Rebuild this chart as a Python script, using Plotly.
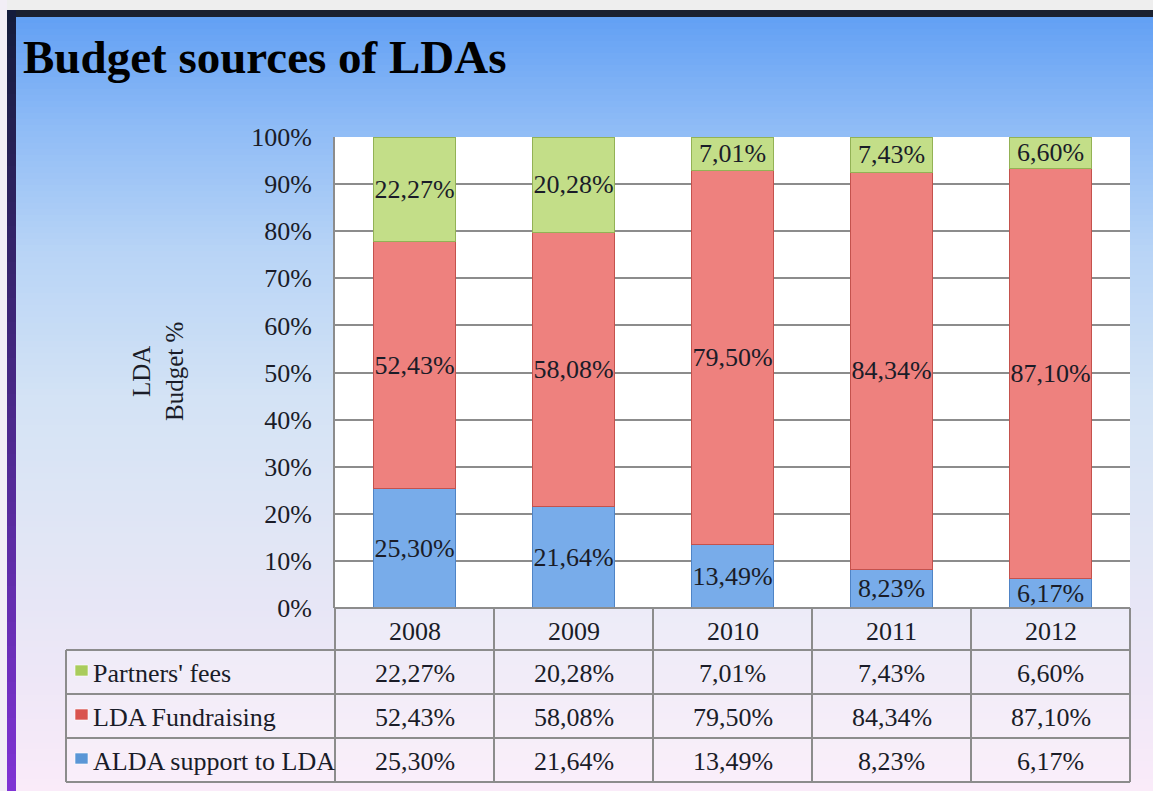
import plotly.graph_objects as go

# ---------------- data ----------------
years = ["2008", "2009", "2010", "2011", "2012"]
alda_support = [25.30, 21.64, 13.49, 8.23, 6.17]
lda_fundraising = [52.43, 58.08, 79.50, 84.34, 87.10]
partners_fees = [22.27, 20.28, 7.01, 7.43, 6.60]
series_names = ["ALDA support to LDA", "LDA Fundraising", "Partners' fees"]
y_tick_values = [0, 10, 20, 30, 40, 50, 60, 70, 80, 90, 100]
y_tick_labels = [f"{v}%" for v in y_tick_values]
title_text = "Budget sources of LDAs"
y_title_text = "LDA<br>Budget %"


def fmt(v):
    return f"{v:.2f}".replace(".", ",") + "%"


# ---------------- geometry / style ----------------
W, H = 1153, 791
FONT = "Liberation Serif"
TXT = "#1a1c28"


def px(x):
    return x / W


def py(y):
    return 1 - y / H


PLOT_L, PLOT_R, PLOT_T, PLOT_B = 335, 1130, 137, 608
TABLE_L = 66
ROW_LINES = [608, 650, 694, 738, 782]
COL_W = (PLOT_R - PLOT_L) / len(years)

colors = {
    "ALDA support to LDA": ("#78acea", "#4f84c6", "#5a96d6"),
    "LDA Fundraising": ("#ee817e", "#c4524d", "#d9534f"),
    "Partners' fees": ("#c3de88", "#93b255", "#a9cc5c"),
}
values = {
    "ALDA support to LDA": alda_support,
    "LDA Fundraising": lda_fundraising,
    "Partners' fees": partners_fees,
}

fig = go.Figure()
for name in series_names:
    fill, line, _ = colors[name]
    fig.add_trace(go.Bar(
        x=years,
        y=values[name],
        name=name,
        text=[fmt(v) for v in values[name]],
        texttemplate="%{text}",
        textposition="inside",
        insidetextanchor="middle",
        constraintext="none",
        textangle=0,
        textfont=dict(family=FONT, size=26, color=TXT),
        marker=dict(color=fill, line=dict(color=line, width=1)),
        hoverinfo="skip",
    ))

shapes = []

# background gradient bands
stops = [
    (17, (98, 160, 244)),
    (120, (140, 186, 246)),
    (250, (184, 212, 246)),
    (400, (212, 227, 245)),
    (550, (226, 230, 245)),
    (680, (238, 231, 247)),
    (791, (250, 235, 249)),
]


def color_at(y):
    for (y0, c0), (y1, c1) in zip(stops[:-1], stops[1:]):
        if y0 <= y <= y1:
            t = (y - y0) / (y1 - y0)
            return "rgb(%d,%d,%d)" % tuple(round(a + (b - a) * t) for a, b in zip(c0, c1))
    return "rgb(%d,%d,%d)" % stops[-1][1]


band = 6
y = 17
while y < H:
    shapes.append(dict(type="rect", xref="paper", yref="paper", layer="below",
                       x0=px(16), x1=1, y0=py(min(y + band + 1, H)), y1=py(y),
                       fillcolor=color_at(y + band / 2), line=dict(width=0)))
    y += band

# frame: top light strip, dark top line, left strip navy->purple
shapes.append(dict(type="rect", xref="paper", yref="paper", layer="below",
                   x0=0, x1=1, y0=py(10), y1=1, fillcolor="#eeeeee", line=dict(width=0)))
shapes.append(dict(type="rect", xref="paper", yref="paper", layer="below",
                   x0=0, x1=px(7), y0=0, y1=1, fillcolor="#f2eef6", line=dict(width=0)))
shapes.append(dict(type="rect", xref="paper", yref="paper", layer="below",
                   x0=px(8), x1=1, y0=py(17), y1=py(10), fillcolor="#1b2130", line=dict(width=0)))
y = 10
while y < H:
    t = (y - 10) / (H - 10)
    c0, c1 = (20, 28, 60), (128, 52, 214)
    col = "rgb(%d,%d,%d)" % tuple(round(a + (b - a) * t) for a, b in zip(c0, c1))
    shapes.append(dict(type="rect", xref="paper", yref="paper", layer="below",
                       x0=px(7), x1=px(16), y0=py(min(y + 13, H)), y1=py(y),
                       fillcolor=col, line=dict(width=0)))
    y += 12

# white plot area
shapes.append(dict(type="rect", xref="paper", yref="paper", layer="below",
                   x0=px(PLOT_L), x1=px(PLOT_R), y0=py(PLOT_B), y1=py(PLOT_T),
                   fillcolor="white", line=dict(width=0)))

# table cell fills
shapes.append(dict(type="rect", xref="paper", yref="paper", layer="below",
                   x0=px(PLOT_L), x1=px(PLOT_R), y0=py(ROW_LINES[1]), y1=py(ROW_LINES[0]),
                   fillcolor="rgba(255,255,255,0.22)", line=dict(width=0)))
shapes.append(dict(type="rect", xref="paper", yref="paper", layer="below",
                   x0=px(TABLE_L), x1=px(PLOT_R), y0=py(ROW_LINES[-1]), y1=py(ROW_LINES[1]),
                   fillcolor="rgba(255,255,255,0.22)", line=dict(width=0)))

GRID = "#8c8c8c"
# table horizontal lines
for i, yl in enumerate(ROW_LINES):
    x0 = PLOT_L if i == 0 else TABLE_L
    shapes.append(dict(type="line", xref="paper", yref="paper", layer="above",
                       x0=px(x0), x1=px(PLOT_R), y0=py(yl), y1=py(yl),
                       line=dict(color=GRID, width=2)))
# table vertical lines
for j in range(len(years) + 1):
    xl = PLOT_L + j * COL_W
    shapes.append(dict(type="line", xref="paper", yref="paper", layer="above",
                       x0=px(xl), x1=px(xl), y0=py(ROW_LINES[-1]), y1=py(ROW_LINES[0]),
                       line=dict(color=GRID, width=2)))
shapes.append(dict(type="line", xref="paper", yref="paper", layer="above",
                   x0=px(TABLE_L), x1=px(TABLE_L), y0=py(ROW_LINES[-1]), y1=py(ROW_LINES[1]),
                   line=dict(color=GRID, width=2)))

annotations = []
# title
annotations.append(dict(text="<b>" + title_text + "</b>", xref="paper", yref="paper",
                        x=px(21), y=py(57), xanchor="left", yanchor="middle",
                        showarrow=False, font=dict(family=FONT, size=47, color="#000000")))
# y title
annotations.append(dict(text=y_title_text, xref="paper", yref="paper",
                        x=px(158), y=py(372), xanchor="center", yanchor="middle",
                        textangle=-90, showarrow=False, align="center",
                        font=dict(family=FONT, size=25, color=TXT)))
# year header
for j, yr in enumerate(years):
    annotations.append(dict(text=yr, xref="paper", yref="paper",
                            x=px(PLOT_L + (j + 0.5) * COL_W),
                            y=py((ROW_LINES[0] + ROW_LINES[1]) / 2 + 2),
                            xanchor="center", yanchor="middle", showarrow=False,
                            font=dict(family=FONT, size=26, color=TXT)))
# table rows (top to bottom: partners, fundraising, alda)
row_order = ["Partners' fees", "LDA Fundraising", "ALDA support to LDA"]
for r, name in enumerate(row_order):
    yc = (ROW_LINES[r + 1] + ROW_LINES[r + 2]) / 2
    _, _, key = colors[name]
    shapes.append(dict(type="rect", xref="paper", yref="paper", layer="above",
                       x0=px(75), x1=px(88), y0=py(yc + 4), y1=py(yc - 7),
                       fillcolor=key, line=dict(color="rgba(255,255,255,0.6)", width=1)))
    annotations.append(dict(text=name, xref="paper", yref="paper",
                            x=px(91), y=py(yc + 1), xanchor="left", yanchor="middle",
                            showarrow=False, font=dict(family=FONT, size=26, color=TXT)))
    for j, v in enumerate(values[name]):
        annotations.append(dict(text=fmt(v), xref="paper", yref="paper",
                                x=px(PLOT_L + (j + 0.5) * COL_W), y=py(yc + 1),
                                xanchor="center", yanchor="middle", showarrow=False,
                                font=dict(family=FONT, size=26, color=TXT)))

fig.update_layout(
    width=W, height=H, autosize=False,
    margin=dict(l=0, r=0, t=0, b=0, pad=0, autoexpand=False),
    paper_bgcolor="#dfe8f5",
    plot_bgcolor="white",
    barmode="stack",
    barnorm="percent",
    bargap=0.484,
    showlegend=False,
    shapes=shapes,
    annotations=annotations,
    xaxis=dict(domain=[px(PLOT_L), px(PLOT_R)], showticklabels=False, showgrid=False,
               zeroline=False, showline=False, ticks="", fixedrange=True,
               automargin=False),
    yaxis=dict(domain=[py(PLOT_B), py(PLOT_T)], range=[0, 100],
               tickvals=y_tick_values, ticktext=y_tick_labels, ticks="",
               ticklabelstandoff=16, automargin=False,
               tickfont=dict(family=FONT, size=26, color=TXT),
               showgrid=True, gridcolor=GRID, gridwidth=2,
               zeroline=False, showline=True, linecolor=GRID, linewidth=2,
               fixedrange=True),
)

fig.write_html(
    "out.html",
    config={"displayModeBar": False},
    post_script="document.body.style.margin='0';document.body.style.overflow='hidden';",
)
